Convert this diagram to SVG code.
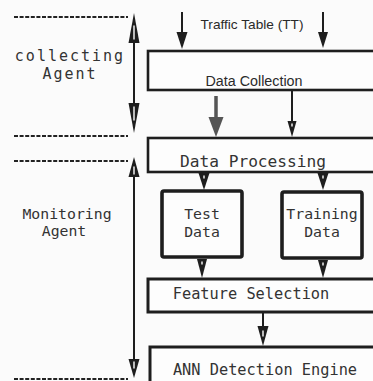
<svg xmlns="http://www.w3.org/2000/svg" width="373" height="381" viewBox="0 0 373 381">
<style>
.bg{fill:#fbfbfb}
.box{fill:#fdfdfd;stroke:#1e1e1e;stroke-width:2.6}
.tbox{fill:#fdfdfd;stroke:#1e1e1e;stroke-width:3.6}
.mono{font-family:"DejaVu Sans Mono","Liberation Mono",monospace;fill:#333}
.sans{font-family:"Liberation Sans",Arial,sans-serif;fill:#2a2a2a}
.dash{stroke:#222;stroke-width:2;stroke-dasharray:4 1.6;fill:none}
.shaft{stroke:#1e1e1e;stroke-width:2;fill:none}
.head{fill:#1e1e1e}
.dot{stroke:#fff;stroke-width:1.4;stroke-linecap:round}
</style>
<rect class="bg" x="0" y="0" width="373" height="381"/>

<g id="connectors">
  <!-- dashed separators -->
  <line class="dash" x1="14" y1="17" x2="128" y2="17"/>
  <line class="dash" x1="14" y1="136" x2="128" y2="136"/>
  <line class="dash" x1="14" y1="161" x2="128" y2="161"/>
  <line class="dash" x1="14" y1="379" x2="128" y2="379"/>

  <!-- collecting agent double arrow -->
  <line class="shaft" x1="134" y1="30" x2="134" y2="118"/>
  <polygon class="head" points="134,13 139.5,43 128.5,43"/>
  <line class="dot" x1="134" y1="26" x2="134" y2="39"/>
  <polygon class="head" points="134,133 139.5,103 128.5,103"/>
  <line class="dot" x1="134" y1="107" x2="134" y2="120"/>

  <!-- monitoring agent double arrow -->
  <line class="shaft" x1="134" y1="170" x2="134" y2="365"/>
  <polygon class="head" points="134,157 139.5,177 128.5,177"/>
  <line class="dot" x1="134" y1="167" x2="134" y2="174"/>
  <polygon class="head" points="134,378 139.5,359 128.5,359"/>
  <line class="dot" x1="134" y1="362" x2="134" y2="368"/>

  <!-- Traffic table inputs -->
  <line class="shaft" x1="182" y1="12" x2="182" y2="34"/>
  <polygon class="head" points="176.5,32 187.5,32 182,49"/>
  <line class="shaft" x1="323" y1="12" x2="323" y2="34"/>
  <polygon class="head" points="318,32 328,32 323,48"/>

  <!-- Data Collection -> Data Processing -->
  <line x1="216" y1="96" x2="216" y2="119" stroke="#555" stroke-width="3.5"/>
  <polygon points="208.5,117 223.5,117 216,137" fill="#555"/>
  <line class="shaft" x1="292" y1="90" x2="292" y2="122"/>
  <polygon class="head" points="287.5,121 296.5,121 292,137"/>
  <line class="dot" x1="292" y1="124" x2="292" y2="126"/>

  <!-- Data Processing -> Test / Training -->
  <polygon class="head" points="198.5,173 209.5,173 204,190"/>
  <line class="dot" x1="204" y1="176" x2="204" y2="178"/>
  <polygon class="head" points="317.5,173 328.5,173 323,190"/>
  <line class="dot" x1="323" y1="176" x2="323" y2="178"/>

  <!-- Test / Training -> Feature Selection -->
  <polygon class="head" points="197,259 207,259 202,278"/>
  <line class="dot" x1="202" y1="262" x2="202" y2="264"/>
  <polygon class="head" points="318,260 328,260 323,278"/>
  <line class="dot" x1="323" y1="263" x2="323" y2="265"/>

  <!-- Feature Selection -> ANN -->
  <line class="shaft" x1="263" y1="312" x2="263" y2="328"/>
  <polygon class="head" points="257.5,326 268.5,326 263,346"/>
  <line class="dot" x1="263" y1="331" x2="263" y2="336"/>
</g>

<g id="label-collecting">
  <text class="mono" x="70" y="61" font-size="15" text-anchor="middle" letter-spacing="2">collecting</text>
  <text class="mono" x="70" y="79" font-size="15" text-anchor="middle" letter-spacing="2">Agent</text>
</g>
<g id="label-monitoring">
  <text class="mono" x="67" y="219" font-size="14.8" text-anchor="middle">Monitoring</text>
  <text class="mono" x="64" y="236" font-size="14.8" text-anchor="middle">Agent</text>
</g>

<g id="traffic-table">
  <text class="sans" x="252" y="29" font-size="13" text-anchor="middle" textLength="103" lengthAdjust="spacingAndGlyphs">Traffic Table (TT)</text>
</g>

<g id="data-collection">
  <rect class="box" x="148" y="51" width="240" height="39"/>
  <text class="sans" x="254" y="86" font-size="14" text-anchor="middle" textLength="97" lengthAdjust="spacingAndGlyphs">Data Collection</text>
</g>

<g id="data-processing">
  <rect class="box" x="148" y="138" width="240" height="34"/>
  <text class="mono" x="253" y="167" font-size="16.2" text-anchor="middle">Data Processing</text>
</g>

<g id="test-data">
  <rect class="tbox" x="162" y="191" width="80" height="66" rx="2"/>
  <text class="mono" x="202" y="219" font-size="14.8" text-anchor="middle">Test</text>
  <text class="mono" x="202" y="237" font-size="14.8" text-anchor="middle">Data</text>
</g>

<g id="training-data">
  <rect class="tbox" x="282" y="192" width="80" height="66" rx="2"/>
  <text class="mono" x="322" y="219" font-size="14.8" text-anchor="middle">Training</text>
  <text class="mono" x="322" y="237" font-size="14.8" text-anchor="middle">Data</text>
</g>

<g id="feature-selection">
  <rect class="box" x="148" y="279" width="240" height="33" style="stroke-width:3"/>
  <text class="mono" x="251" y="299" font-size="15.3" text-anchor="middle">Feature Selection</text>
</g>

<g id="ann-engine">
  <rect class="box" x="150" y="347" width="240" height="40" style="stroke-width:3"/>
  <text class="mono" x="265" y="375" font-size="15.3" text-anchor="middle">ANN Detection Engine</text>
</g>
</svg>
